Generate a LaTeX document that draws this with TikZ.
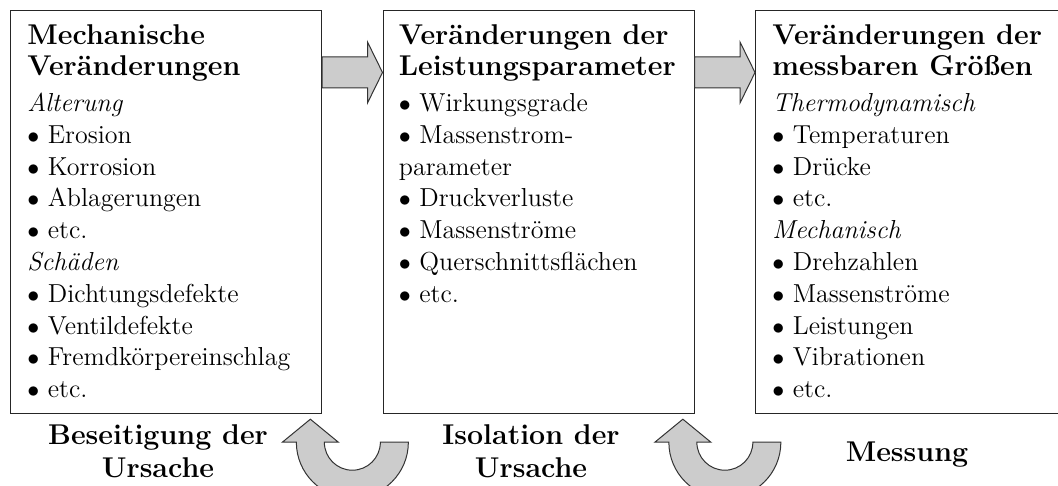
\documentclass[tikz,border=0pt]{standalone}
\usetikzlibrary{calc}
\newcommand\bul{$\bullet$\ }
\tikzset{
  frame/.style={draw=black!85, line width=0.6pt, fill=white, minimum width=155.5pt,
    minimum height=201.5pt, anchor=north west, inner sep=0pt},
  head/.style={font=\fontsize{14.3}{16}\selectfont\bfseries, anchor=base west, inner sep=0pt},
  body/.style={font=\fontsize{13}{16}\selectfont, anchor=base west, inner sep=0pt},
  tag/.style={font=\fontsize{14.3}{16}\selectfont\bfseries, anchor=base, inner sep=0pt},
  blockarrow/.style={draw=black!80, line width=0.5pt, fill=gray!40, line join=miter},
}
\begin{document}
\begin{tikzpicture}[x=0.5pt,y=-0.5pt]
\useasboundingbox (0,0) rectangle (1058,486);
\clip (0,0) rectangle (1058,486);

% the three stages
\node[frame] (b1) at (10,10) {};
\node[frame] (b2) at (382.5,10) {};
\node[frame] (b3) at (755,10) {};

% forward block arrows between the stages
\foreach \p/\q in {b1/b2,b2/b3}
  \draw[blockarrow] ($(\p.north east)+(0,47)$) -- ($(\q.north west)+(-15,47)$)
    -- ($(\q.north west)+(-15,32)$) -- ($(\q.north west)+(0,62.5)$)
    -- ($(\q.north west)+(-15,93)$) -- ($(\q.north west)+(-15,78)$)
    -- ($(\p.north east)+(0,78)$) -- cycle;

% backward U-turn arrows below the stages
\coordinate (u1) at ($(b1.south east)!0.5!(b2.south west)+(0,28)$);
\coordinate (u2) at ($(b2.south east)!0.5!(b3.south west)+(0,28)$);
\foreach \c in {u1,u2}
  \draw[blockarrow] ($(\c)+(28,0)$) -- ($(\c)+(56,0)$)
    arc[start angle=0, end angle=-180, radius=28pt]
    -- ($(\c)+(-70,0)$) -- ($(\c)+(-42,-23)$) -- ($(\c)+(-14,0)$) -- ($(\c)+(-28,0)$)
    arc[start angle=180, end angle=360, radius=14pt] -- cycle;

% stage 1
\node[head] (b1h1) at ($(b1.north west)+(17,35)$) {Mechanische};
\node[head] (b1h2) at ($(b1.north west)+(17,66)$) {Veränderungen};
\foreach \t [count=\i from 0] in {{\textit{Alterung}}, {\bul Erosion}, {\bul Korrosion},
    {\bul Ablagerungen}, {\bul etc.}, {\textit{Schäden}}, {\bul Dichtungsdefekte},
    {\bul Ventildefekte}, {\bul Fremdkörpereinschlag}, {\bul etc.}}
  \node[body] (b1t\i) at ($(b1.north west)+(17,101.5+31.8*\i)$) {\t};

% stage 2
\node[head] (b2h1) at ($(b2.north west)+(16,35)$) {Veränderungen der};
\node[head] (b2h2) at ($(b2.north west)+(16,66)$) {Leistungsparameter};
\foreach \t [count=\i from 0] in {{\bul Wirkungsgrade}, {\bul Massenstrom-}, {parameter},
    {\bul Druckverluste}, {\bul Massenströme}, {\bul Querschnittsflächen}, {\bul etc.}}
  \node[body] (b2t\i) at ($(b2.north west)+(16,101.5+31.8*\i)$) {\t};

% stage 3
\node[head] (b3h1) at ($(b3.north west)+(17,35)$) {Veränderungen der};
\node[head] (b3h2) at ($(b3.north west)+(17,66)$) {messbaren Größen};
\foreach \t [count=\i from 0] in {{\textit{Thermodynamisch}}, {\bul Temperaturen},
    {\bul Drücke}, {\bul etc.}, {\textit{Mechanisch}}, {\bul Drehzahlen},
    {\bul Massenströme}, {\bul Leistungen}, {\bul Vibrationen}, {\bul etc.}}
  \node[body] (b3t\i) at ($(b3.north west)+(17,101.5+31.8*\i)$) {\t};

% captions of the feedback steps
\node[tag] (l1a) at (158,444) {Beseitigung der};
\node[tag] (l1b) at (158,477) {Ursache};
\node[tag] (l2a) at (531,444) {Isolation der};
\node[tag] (l2b) at (531,477) {Ursache};
\node[tag] (l3) at (907,461) {Messung};
\end{tikzpicture}
\end{document}
